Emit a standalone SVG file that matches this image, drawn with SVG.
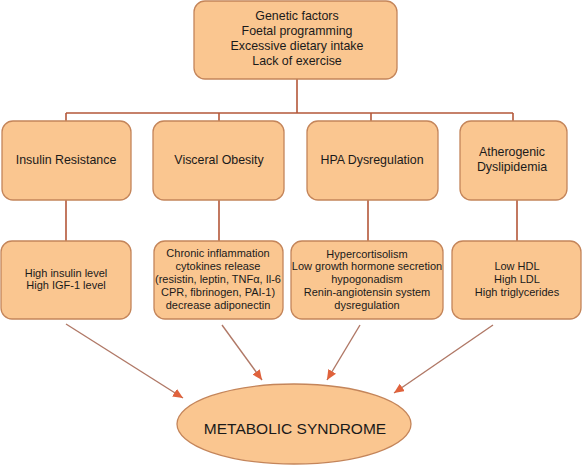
<svg xmlns="http://www.w3.org/2000/svg" width="584" height="467" viewBox="0 0 584 467">
<defs>
<style>
.box{fill:#FAC690;stroke:#C4855A;stroke-width:1.3}
.t{font-family:"Liberation Sans",Arial,sans-serif;fill:#1a1a1a;text-anchor:middle}
.h{font-size:12.4px}
.s{font-size:11px}
.big{font-size:15.5px}
.tree{stroke:#B4583A;stroke-width:1.6;fill:none}
.arr{stroke:#B07866;stroke-width:1.4;fill:none;marker-end:url(#ah)}
</style>
<marker id="ah" markerUnits="userSpaceOnUse" markerWidth="12" markerHeight="10" refX="10" refY="4.5" orient="auto">
<path d="M0,0 L10,4.5 L0,9 Z" fill="#E0623C"/>
</marker>
</defs>
<rect width="584" height="467" fill="#ffffff"/>
<g id="connectors">
<path class="tree" d="M297,79 V113 M66,113 H513 M66,113 V121 M219,113 V121 M371,113 V121 M513,113 V121"/>
<path class="tree" d="M66,200 V241 M219,200 V241 M368,200 V241 M517,200 V241"/>
<line class="arr" x1="66" y1="324" x2="183" y2="398"/>
<line class="arr" x1="222" y1="325" x2="262" y2="380"/>
<line class="arr" x1="360" y1="325" x2="327" y2="380"/>
<line class="arr" x1="493" y1="325" x2="394" y2="393"/>
</g>
<g id="top">
<rect class="box" x="194" y="1" width="203" height="78" rx="11"/>
<text class="t h" x="297" y="20">Genetic factors</text>
<text class="t h" x="297" y="35">Foetal programming</text>
<text class="t h" x="297" y="50">Excessive dietary intake</text>
<text class="t h" x="297" y="65">Lack of exercise</text>
</g>
<g id="insulin-resistance">
<rect class="box" x="2" y="121" width="129" height="79" rx="11"/>
<text class="t h" x="66" y="163.5">Insulin Resistance</text>
</g>
<g id="visceral-obesity">
<rect class="box" x="153" y="121" width="131" height="79" rx="11"/>
<text class="t h" x="219" y="163.5">Visceral Obesity</text>
</g>
<g id="hpa-dysregulation">
<rect class="box" x="307" y="121" width="131" height="79" rx="11"/>
<text class="t h" x="372" y="163.5">HPA Dysregulation</text>
</g>
<g id="atherogenic-dyslipidemia">
<rect class="box" x="460" y="121" width="107" height="79" rx="11"/>
<text class="t h" x="512" y="155.5">Atherogenic</text>
<text class="t h" x="512" y="170.5">Dyslipidemia</text>
</g>
<g id="insulin-effects">
<rect class="box" x="1" y="241" width="130" height="78" rx="11"/>
<text class="t s" x="66" y="277">High insulin level</text>
<text class="t s" x="66" y="289">High IGF-1 level</text>
</g>
<g id="obesity-effects">
<rect class="box" x="154" y="241" width="129" height="78" rx="11"/>
<text class="t s" x="218" y="257">Chronic inflammation</text>
<text class="t s" x="218" y="270">cytokines release</text>
<text class="t s" x="218" y="283">(resistin, leptin, TNFα, Il-6</text>
<text class="t s" x="218" y="296">CPR, fibrinogen, PAI-1)</text>
<text class="t s" x="218" y="309">decrease adiponectin</text>
</g>
<g id="hpa-effects">
<rect class="box" x="291" y="241" width="152" height="78" rx="11"/>
<text class="t s" x="367" y="258">Hypercortisolism</text>
<text class="t s" x="367" y="270">Low growth hormone secretion</text>
<text class="t s" x="367" y="283">hypogonadism</text>
<text class="t s" x="367" y="296">Renin-angiotensin system</text>
<text class="t s" x="367" y="309">dysregulation</text>
</g>
<g id="dyslipidemia-effects">
<rect class="box" x="452" y="241" width="129" height="78" rx="11"/>
<text class="t s" x="517" y="270">Low HDL</text>
<text class="t s" x="517" y="283">High LDL</text>
<text class="t s" x="517" y="296">High triglycerides</text>
</g>
<g id="metabolic-syndrome">
<ellipse class="box" cx="294" cy="424" rx="117" ry="40"/>
<text class="t big" x="295" y="433.5">METABOLIC SYNDROME</text>
</g>
</svg>
